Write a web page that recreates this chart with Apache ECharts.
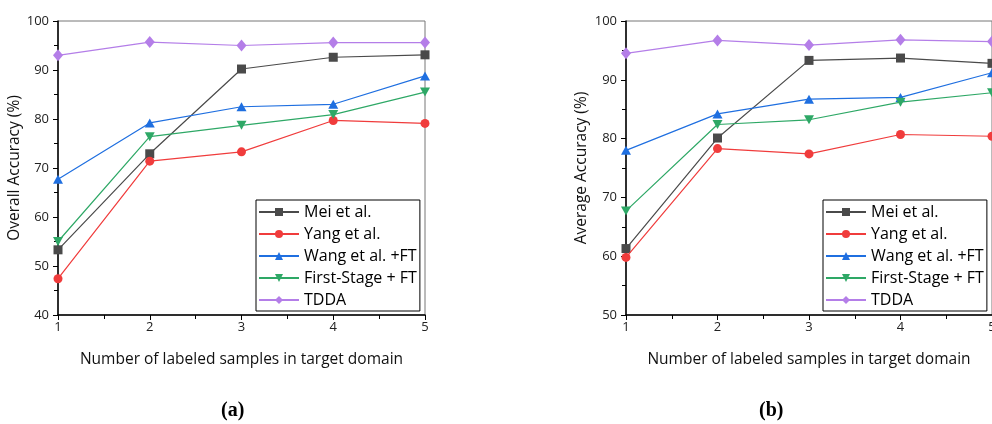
<!DOCTYPE html>
<html>
<head>
<meta charset="utf-8">
<script src="https://cdn.jsdelivr.net/npm/echarts@6/dist/echarts.min.js"></script>
<style>
html,body{margin:0;padding:0;background:#fff;}
#chart{width:992px;height:424px;}
</style>
</head>
<body>
<div id="chart"></div>
<script>
const xValues = [1, 2, 3, 4, 5];
const seriesNames = ['Mei et al.', 'Yang et al.', 'Wang et al. +FT', 'First-Stage + FT', 'TDDA'];
const seriesColors = ['#4a4a4a', '#f03c3c', '#1f6fe0', '#2ea866', '#b47ee8'];
const seriesSymbols = ['rect', 'circle', 'triangle', 'path://M0,0 L10,0 L5,9 Z', 'diamond'];

// (a) Overall Accuracy (%)
const oaMei   = [53.3, 72.9, 90.2, 92.6, 93.1];
const oaYang  = [47.4, 71.4, 73.3, 79.7, 79.1];
const oaWang  = [67.7, 79.2, 82.5, 83.0, 88.8];
const oaFirst = [55.0, 76.4, 78.7, 80.9, 85.5];
const oaTDDA  = [93.0, 95.7, 95.0, 95.6, 95.6];

// (b) Average Accuracy (%)
const aaMei   = [61.3, 80.1, 93.3, 93.7, 92.8];
const aaYang  = [59.8, 78.3, 77.4, 80.7, 80.4];
const aaWang  = [78.0, 84.2, 86.7, 87.0, 91.2];
const aaFirst = [67.7, 82.4, 83.2, 86.2, 87.8];
const aaTDDA  = [94.5, 96.7, 95.9, 96.8, 96.5];

const xTitle = 'Number of labeled samples in target domain';
const yTitleA = 'Overall Accuracy (%)';
const yTitleB = 'Average Accuracy (%)';
const panelLabels = ['a', 'b'];

const FONT = '"Open Sans", "Noto Sans", sans-serif';

const setA = [oaMei, oaYang, oaWang, oaFirst, oaTDDA];
const setB = [aaMei, aaYang, aaWang, aaFirst, aaTDDA];

function makeSeries(sets, idx) {
  return sets.map((vals, i) => ({
    name: seriesNames[i],
    type: 'line',
    xAxisIndex: idx,
    yAxisIndex: idx,
    data: vals.map((v, k) => [xValues[k], v]),
    symbol: seriesSymbols[i],
    symbolSize: i === 3 ? [10, 9] : (i === 4 ? [10, 12] : (i === 2 ? [10, 9] : 9)),
    showSymbol: true,
    color: seriesColors[i],
    lineStyle: { width: 1.2, color: seriesColors[i] },
    itemStyle: { color: seriesColors[i] },
    z: 3 + i,
    animation: false
  }));
}

function xAxisCfg(gridIndex) {
  return {
    gridIndex, type: 'value', min: 1, max: 5, interval: 1,
    axisLine: { show: true, lineStyle: { color: '#000', width: 1.5 } },
    axisTick: { show: true, length: 5, lineStyle: { color: '#000' } },
    minorTick: { show: true, splitNumber: 2, length: 4, lineStyle: { color: '#000' } },
    splitLine: { show: false },
    axisLabel: { color: '#222', fontSize: 13, fontFamily: FONT, margin: 6 },
    name: xTitle, nameLocation: 'middle', nameGap: 37,
    nameTextStyle: { color: '#111', fontSize: 15.5, fontFamily: FONT }
  };
}

function yAxisCfg(gridIndex, min, name, gap) {
  return {
    gridIndex, type: 'value', min: min, max: 100, interval: 10,
    axisLine: { show: true, lineStyle: { color: '#000', width: 1.5 } },
    axisTick: { show: true, length: 5, lineStyle: { color: '#000' } },
    minorTick: { show: true, splitNumber: 2, length: 4, lineStyle: { color: '#000' } },
    splitLine: { show: false },
    axisLabel: { color: '#222', fontSize: 13, fontFamily: FONT, margin: 9 },
    name: name, nameLocation: 'middle', nameGap: gap,
    nameTextStyle: { color: '#111', fontSize: 15.5, fontFamily: FONT }
  };
}

function legendCfg(left) {
  return {
    data: seriesNames,
    orient: 'vertical',
    left: left, top: 200,
    backgroundColor: '#fff',
    borderColor: '#000', borderWidth: 1, borderRadius: 0,
    padding: [4, 3, 3, 2],
    itemWidth: 40, itemHeight: 10, itemGap: 6, itemTextGap: 5,
    textStyle: { color: '#000', fontSize: 16, fontFamily: FONT, lineHeight: 16 },
    selectedMode: false,
    z: 10
  };
}

const gridBase = { top: 21, height: 294, show: true, borderColor: '#777', borderWidth: 1,
  backgroundColor: 'transparent', containLabel: false, outerBoundsMode: 'none' };

const option = {
  backgroundColor: '#fff',
  animation: false,
  grid: [
    Object.assign({ left: 58, width: 367 }, gridBase),
    Object.assign({ left: 626, width: 366 }, gridBase)
  ],
  xAxis: [xAxisCfg(0), xAxisCfg(1)],
  yAxis: [yAxisCfg(0, 40, yTitleA, 35), yAxisCfg(1, 50, yTitleB, 36)],
  legend: [legendCfg(256), legendCfg(823)],
  title: panelLabels.map((p, i) => ({
    text: '{n|(}{b|' + p + '}{n|)}',
    left: i === 0 ? 216 : 754,
    top: 396,
    textStyle: {
      rich: {
        n: { fontFamily: '"Liberation Serif", serif', fontSize: 20, color: '#000' },
        b: { fontFamily: '"Liberation Serif", serif', fontSize: 20, fontWeight: 'bold', color: '#000' }
      }
    }
  })),
  series: makeSeries(setA, 0).concat(makeSeries(setB, 1))
};

const chart = echarts.init(document.getElementById('chart'), null, { renderer: 'canvas' });
chart.setOption(option);
</script>
</body>
</html>
